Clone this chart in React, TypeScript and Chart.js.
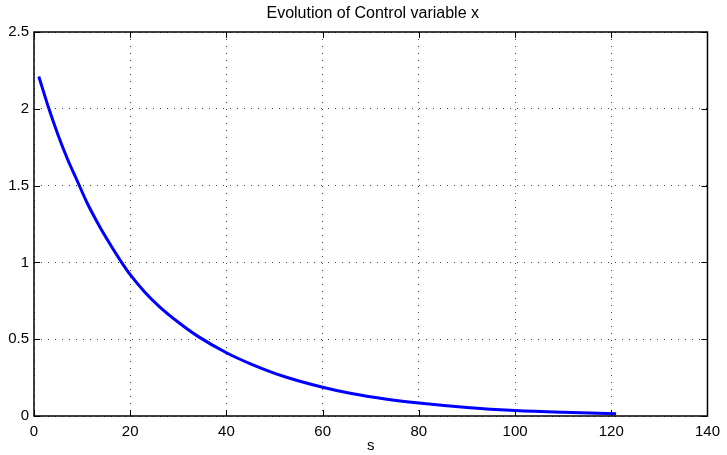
import React, { useEffect, useRef } from "react";
import { Chart, registerables } from "chart.js";

Chart.register(...registerables);

const sValues = [1, 3, 5, 7, 9, 11, 13, 15, 18, 20, 23, 26, 30, 34, 40, 45, 52, 60, 66, 73, 80, 90, 100, 110, 121];
const xValues = [2.21, 2.01, 1.83, 1.67, 1.53, 1.39, 1.27, 1.16, 1.01, 0.92, 0.808, 0.714, 0.61, 0.52, 0.412, 0.34, 0.257, 0.187, 0.146, 0.111, 0.085, 0.056, 0.036, 0.024, 0.015];
const xTicks = [0, 20, 40, 60, 80, 100, 120, 140];
const yTicks = [0, 0.5, 1, 1.5, 2, 2.5];
const titleText = "Evolution of Control variable x";
const xLabel = "s";

const FONT = "'Liberation Sans', Arial, Helvetica, sans-serif";

const frame = {
  id: "matlabFrame",
  afterDraw(chart: any) {
    const { ctx, chartArea } = chart;
    const { left, right, top, bottom } = chartArea;
    const xs = chart.scales.x;
    const ys = chart.scales.y;
    ctx.save();
    ctx.strokeStyle = "#000";
    ctx.lineWidth = 1;
    ctx.setLineDash([]);
    ctx.beginPath();
    const L = 6;
    xTicks.forEach((t) => {
      const p = Math.round(xs.getPixelForValue(t)) + 0.5;
      ctx.moveTo(p, bottom);
      ctx.lineTo(p, bottom - L);
      ctx.moveTo(p, top);
      ctx.lineTo(p, top + L);
    });
    yTicks.forEach((t) => {
      const p = Math.round(ys.getPixelForValue(t)) + 0.5;
      ctx.moveTo(left, p);
      ctx.lineTo(left + L, p);
      ctx.moveTo(right, p);
      ctx.lineTo(right - L, p);
    });
    ctx.stroke();
    ctx.lineWidth = 1.5;
    ctx.strokeRect(left, top, right - left, bottom - top);
    ctx.fillStyle = "#000";
    ctx.font = `16px ${FONT}`;
    ctx.textAlign = "center";
    ctx.textBaseline = "middle";
    ctx.fillText(titleText, (left + right) / 2 + 2, 14);
    ctx.restore();
  },
};

export default function App() {
  const ref = useRef<HTMLCanvasElement | null>(null);
  useEffect(() => {
    document.body.style.margin = "0";
    const canvas = ref.current;
    if (!canvas) return;
    const chart = new Chart(canvas, {
      type: "line",
      data: {
        datasets: [
          {
            data: sValues.map((s, i) => ({ x: s, y: xValues[i] })),
            borderColor: "#0000ff",
            borderWidth: 3,
            pointRadius: 0,
            fill: false,
            cubicInterpolationMode: "monotone",
          },
        ],
      },
      options: {
        animation: false,
        responsive: false,
        maintainAspectRatio: false,
        layout: { padding: { left: 0, right: 15, top: 32, bottom: 0 } },
        plugins: {
          legend: { display: false },
          tooltip: { enabled: false },
          title: { display: false },
        },
        scales: {
          x: {
            type: "linear",
            min: 0,
            max: 140,
            afterFit: (s: any) => {
              s.height = 39;
            },
            afterBuildTicks: (s: any) => {
              s.ticks = xTicks.map((v) => ({ value: v }));
            },
            ticks: {
              color: "#000",
              font: { family: FONT, size: 15 },
              padding: 7,
              maxRotation: 0,
              callback: (v: any) => `${v}`,
            },
            grid: {
              color: "rgba(0,0,0,0.75)",
              drawTicks: false,
              lineWidth: 1,
            },
            border: { display: false, dash: [1, 6] },
            title: {
              display: true,
              text: xLabel,
              color: "#000",
              font: { family: FONT, size: 15 },
              padding: { top: 0, bottom: 0 },
            },
          },
          y: {
            type: "linear",
            min: 0,
            max: 2.5,
            afterFit: (s: any) => {
              s.width = 34;
            },
            afterBuildTicks: (s: any) => {
              s.ticks = yTicks.map((v) => ({ value: v }));
            },
            ticks: {
              color: "#000",
              font: { family: FONT, size: 15 },
              padding: 5,
              callback: (v: any) => `${v}`,
            },
            grid: {
              color: "rgba(0,0,0,0.75)",
              drawTicks: false,
              lineWidth: 1,
            },
            border: { display: false, dash: [1, 6] },
          },
        },
      },
      plugins: [frame],
    } as any);
    return () => chart.destroy();
  }, []);
  return (
    <div style={{ width: 727, height: 455 }}>
      <canvas ref={ref} width={727} height={455} style={{ display: "block", width: 727, height: 455 }} />
    </div>
  );
}
